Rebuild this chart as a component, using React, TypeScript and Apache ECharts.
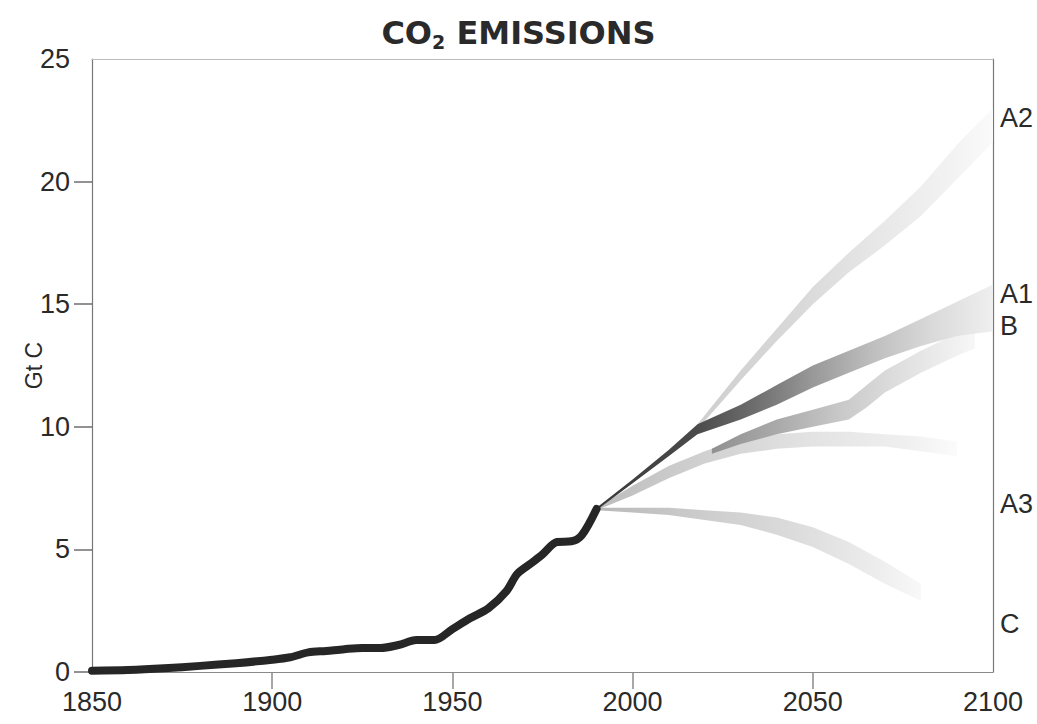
import React, { useEffect, useRef } from "react";
import * as echarts from "echarts";

// Historical emissions (Gt C)
const histYears = [1850, 1860, 1870, 1880, 1890, 1900, 1905, 1910, 1915, 1920, 1925, 1930, 1935, 1940, 1945, 1950, 1955, 1960, 1965, 1968, 1972, 1975, 1979, 1983, 1986, 1990];
const histValues = [0.05, 0.08, 0.15, 0.25, 0.36, 0.5, 0.6, 0.8, 0.86, 0.93, 0.98, 0.98, 1.1, 1.3, 1.3, 1.75, 2.2, 2.6, 3.3, 4.0, 4.45, 4.8, 5.3, 5.33, 5.6, 6.65];

// A2 band
const a2Years = [2018, 2030, 2040, 2050, 2060, 2070, 2080, 2090, 2100];
const a2Low = [9.9, 11.9, 13.5, 15.0, 16.3, 17.4, 18.6, 20.1, 21.6];
const a2High = [10.1, 12.3, 14.0, 15.7, 17.1, 18.4, 19.8, 21.5, 23.0];

// A1 / B dark band
const a1bYears = [1990, 2000, 2010, 2018, 2030, 2040, 2050, 2060, 2070, 2080, 2090, 2100];
const a1bLow = [6.6, 7.7, 8.8, 9.7, 10.3, 10.9, 11.6, 12.2, 12.8, 13.3, 13.7, 13.9];
const a1bHigh = [6.7, 7.85, 9.05, 10.1, 10.9, 11.7, 12.5, 13.1, 13.7, 14.4, 15.1, 15.8];

// kinked middle band
const midYears = [2022, 2030, 2040, 2050, 2060, 2065, 2070, 2080, 2090, 2095];
const midLow = [8.9, 9.3, 9.7, 10.0, 10.3, 10.8, 11.4, 12.2, 12.9, 13.2];
const midHigh = [9.1, 9.7, 10.3, 10.7, 11.1, 11.7, 12.3, 13.1, 13.8, 14.1];

// A3 flat band
const a3Years = [1990, 2000, 2010, 2020, 2030, 2040, 2050, 2060, 2070, 2080, 2090];
const a3Low = [6.6, 7.2, 7.9, 8.5, 8.9, 9.1, 9.2, 9.2, 9.2, 9.0, 8.8];
const a3High = [6.7, 7.6, 8.4, 9.0, 9.5, 9.7, 9.8, 9.8, 9.7, 9.6, 9.4];

// C band
const cYears = [1990, 2000, 2010, 2020, 2030, 2040, 2050, 2060, 2070, 2080];
const cLow = [6.6, 6.5, 6.4, 6.2, 6.0, 5.6, 5.1, 4.4, 3.6, 2.9];
const cHigh = [6.7, 6.7, 6.7, 6.6, 6.5, 6.3, 5.9, 5.3, 4.5, 3.6];

// Scenario labels
const scenarioLabels = ["A2", "A1", "B", "A3", "C"];
const scenarioLabelValues = [22.6, 15.4, 14.1, 6.85, 1.95];

// Tick positions
const xTickValues = [1900, 1950, 2000, 2050];
const yTickValues = [0, 5, 10, 15, 20];

const FONT = "'Liberation Sans', Arial, Helvetica, sans-serif";
const TITLE_FONT = "'DejaVu Sans', 'Liberation Sans', Arial, sans-serif";

function band(name: string, years: number[], low: number[], high: number[], stops: [number, string][]) {
  return {
    name,
    type: "custom",
    coordinateSystem: "cartesian2d",
    silent: true,
    data: [[years[0], low[0]]],
    encode: { x: 0, y: 1 },
    renderItem: (_params: any, api: any) => {
      const upper = years.map((y, i) => api.coord([y, high[i]]));
      const lower = years.map((y, i) => api.coord([y, low[i]])).reverse();
      return {
        type: "polygon",
        shape: { points: [...upper, ...lower] },
        style: {
          fill: new echarts.graphic.LinearGradient(
            0, 0, 1, 0,
            stops.map(([offset, color]) => ({ offset, color }))
          ),
          stroke: "none",
        },
      };
    },
  };
}

export default function App() {
  const ref = useRef<HTMLDivElement>(null);

  useEffect(() => {
    if (!ref.current) return;
    const chart = echarts.init(ref.current, null, { renderer: "svg" });
    const option = {
      animation: false,
      backgroundColor: "#ffffff",
      textStyle: { fontFamily: FONT },
      title: {
        text: "{a|CO}{b|2}{a| EMISSIONS}",
        left: "center",
        top: 9,
        textStyle: {
          fontSize: 32,
          fontWeight: "bold",
          fontFamily: TITLE_FONT,
          color: "#2a2a2a",
          rich: {
            a: { fontSize: 32, fontWeight: "bold", color: "#2a2a2a", fontFamily: TITLE_FONT },
            b: { fontSize: 19, fontWeight: "bold", color: "#2a2a2a", fontFamily: TITLE_FONT, padding: [18, 0, 0, 0] },
          },
        },
      },
      grid: { left: 92, right: 44, top: 59, bottom: 52, containLabel: false },
      xAxis: [
        {
          type: "value",
          min: 1850,
          max: 2100,
          interval: 50,
          axisLine: { show: true, onZero: false, lineStyle: { color: "#8a8a8a", width: 1.2 } },
          axisTick: { show: true, inside: false, length: 17, customValues: xTickValues, lineStyle: { color: "#8a8a8a", width: 1.5 } },
          axisLabel: { color: "#2a2a2a", fontSize: 27, margin: 16, fontFamily: FONT, formatter: (v: number) => String(v) },
          splitLine: { show: false },
        },
        {
          type: "value",
          position: "top",
          min: 1850,
          max: 2100,
          axisLine: { show: true, onZero: false, lineStyle: { color: "#bdbdbd", width: 1.2 } },
          axisTick: { show: false },
          axisLabel: { show: false },
          splitLine: { show: false },
        },
      ],
      yAxis: [
        {
          type: "value",
          min: 0,
          max: 25,
          interval: 5,
          name: "Gt C",
          nameLocation: "middle",
          nameGap: 47,
          nameMoveOverlap: false,
          nameRotate: 90,
          nameTextStyle: { color: "#2a2a2a", fontSize: 23, fontFamily: FONT },
          axisLine: { show: true, onZero: false, lineStyle: { color: "#777", width: 1.2 } },
          axisTick: { show: true, inside: false, length: 18, customValues: yTickValues, lineStyle: { color: "#6e6e6e", width: 1.5 } },
          axisLabel: { color: "#2a2a2a", fontSize: 27, margin: 22, fontFamily: FONT },
          splitLine: { show: false },
        },
        {
          type: "value",
          position: "right",
          min: 0,
          max: 25,
          axisLine: { show: true, onZero: false, lineStyle: { color: "#777", width: 1.2 } },
          axisTick: { show: false },
          axisLabel: { show: false },
          splitLine: { show: false },
        },
      ],
      series: [
        band("A2", a2Years, a2Low, a2High, [
          [0, "#cfcfcf"], [0.35, "#d9d9d9"], [0.6, "#e7e7e7"], [0.85, "#f2f2f2"], [1, "#fafafa"],
        ]),
        band("C", cYears, cLow, cHigh, [
          [0, "#b8b8b8"], [0.3, "#cbcbcb"], [0.6, "#dbdbdb"], [0.85, "#ececec"], [1, "#f8f8f8"],
        ]),
        band("A3", a3Years, a3Low, a3High, [
          [0, "#bcbcbc"], [0.3, "#d1d1d1"], [0.6, "#e3e3e3"], [0.85, "#efefef"], [1, "#fbfbfb"],
        ]),
        band("MID", midYears, midLow, midHigh, [
          [0, "#909090"], [0.25, "#aaaaaa"], [0.5, "#cacaca"], [0.75, "#e2e2e2"], [1, "#f7f7f7"],
        ]),
        band("A1B", a1bYears, a1bLow, a1bHigh, [
          [0, "#3a3a3a"], [0.25, "#4a4a4a"], [0.4, "#6e6e6e"], [0.55, "#9a9a9a"], [0.7, "#bfbfbf"], [0.85, "#dadada"], [1, "#efefef"],
        ]),
        {
          name: "Historical",
          type: "line",
          symbol: "none",
          smooth: 0.3,
          lineStyle: { color: "#262626", width: 8, cap: "round", join: "round" },
          data: histYears.map((y, i) => [y, histValues[i]]),
          z: 5,
        },
        {
          name: "labels",
          type: "scatter",
          symbolSize: 0,
          itemStyle: { opacity: 1 },
          data: scenarioLabels.map((l, i) => ({ value: [2100, scenarioLabelValues[i]], name: l })),
          label: {
            show: true,
            position: "right",
            distance: 7,
            formatter: (p: any) => p.name,
            color: "#2a2a2a",
            opacity: 1,
            fontSize: 27,
            fontFamily: FONT,
          },
          silent: true,
          z: 6,
        },
      ],
    };
    chart.setOption(option as any);
    return () => {
      chart.dispose();
    };
  }, []);

  return (
    <div
      ref={ref}
      style={{ position: "fixed", left: 0, top: 0, width: 1037, height: 724 }}
    />
  );
}
